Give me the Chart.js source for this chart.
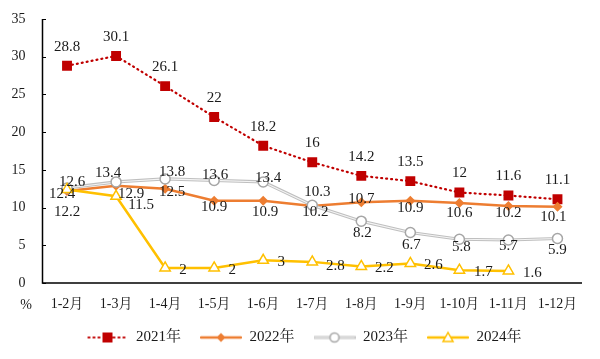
<!DOCTYPE html>
<html>
<head>
<meta charset="utf-8">
<script src="https://cdn.jsdelivr.net/npm/chart.js@4.4.1/dist/chart.umd.min.js"></script>
<style>
html,body{margin:0;padding:0;background:#fff;}
#wrap{width:600px;height:359px;position:relative;}
</style>
</head>
<body>
<div id="wrap"><canvas id="c" width="600" height="359"></canvas></div>
<script>
const categories = ['1-2月','1-3月','1-4月','1-5月','1-6月','1-7月','1-8月','1-9月','1-10月','1-11月','1-12月'];
const series2021 = [28.8, 30.1, 26.1, 22, 18.2, 16, 14.2, 13.5, 12, 11.6, 11.1];
const series2022 = [12.2, 12.9, 12.5, 10.9, 10.9, 10.2, 10.7, 10.9, 10.6, 10.2, 10.1];
const series2023 = [12.6, 13.4, 13.8, 13.6, 13.4, 10.3, 8.2, 6.7, 5.8, 5.7, 5.9];
const series2024 = [12.4, 11.5, 2, 2, 3, 2.8, 2.2, 2.6, 1.7, 1.6, null];
const seriesNames = ['2021年','2022年','2023年','2024年'];
const yTicks = [0, 5, 10, 15, 20, 25, 30, 35];

// label offsets (dx, dy) in pixels relative to each point – styling only
const labelOffsets = {
  s2021: series2021.map(() => [0, -19]),
  s2022: [[0,21],[15,8],[7,3],[0,6],[2,11],[3,6],[0,-3],[0,7],[0,10],[0,7],[-4,10]],
  s2023: [[5,-6],[-8,-9],[7,-7],[1,-5],[5,-4],[5,-13],[1,12],[1,12.5],[2,8],[0,6],[0,12]],
  s2024: [[-5,5],[25,9],[18,2],[18,2],[18,2],[23,4],[23,2],[23,2],[24,2],[24,2],[0,0]]
};

const RED = '#C00000', ORANGE = '#ED7D31', GREY = '#BFBFBF', YELLOW = '#FFC000';
const FONT = '"Liberation Serif", "Times New Roman", "Noto Serif CJK SC", "Noto Sans CJK SC", serif';
const TEXT = '#1a1a1a';

function legendIcon(kind) {
  const c = document.createElement('canvas');
  c.width = 42; c.height = 16;
  const g = c.getContext('2d');
  const cy = 8, mx = 21;
  g.lineCap = 'round';
  if (kind === 0) {
    g.strokeStyle = RED; g.lineWidth = 2.2; g.setLineDash([1, 4]);
    g.beginPath(); g.moveTo(2, cy); g.lineTo(41, cy); g.stroke();
    g.setLineDash([]);
    g.fillStyle = RED; g.fillRect(mx - 5, cy - 5, 10, 10);
  } else if (kind === 1) {
    g.strokeStyle = ORANGE; g.lineWidth = 2.5;
    g.beginPath(); g.moveTo(1, cy); g.lineTo(41, cy); g.stroke();
    g.fillStyle = ORANGE; g.beginPath();
    g.moveTo(mx, cy - 4.5); g.lineTo(mx + 4.5, cy); g.lineTo(mx, cy + 4.5); g.lineTo(mx - 4.5, cy); g.closePath(); g.fill();
  } else if (kind === 2) {
    g.strokeStyle = GREY; g.lineWidth = 3;
    g.beginPath(); g.moveTo(1, cy); g.lineTo(41, cy); g.stroke();
    g.strokeStyle = '#F2F2F2'; g.lineWidth = 1;
    g.beginPath(); g.moveTo(1, cy); g.lineTo(41, cy); g.stroke();
    g.fillStyle = '#fff'; g.strokeStyle = '#A6A6A6'; g.lineWidth = 1.5;
    g.beginPath(); g.arc(mx, cy, 4.5, 0, Math.PI * 2); g.fill(); g.stroke();
  } else {
    g.strokeStyle = YELLOW; g.lineWidth = 2.5;
    g.beginPath(); g.moveTo(1, cy); g.lineTo(41, cy); g.stroke();
    g.fillStyle = '#fff'; g.strokeStyle = YELLOW; g.lineWidth = 1.5;
    g.beginPath(); g.moveTo(mx, cy - 5); g.lineTo(mx + 5, cy + 4); g.lineTo(mx - 5, cy + 4); g.closePath(); g.fill(); g.stroke();
  }
  return c;
}

const icons = [0,1,2,3].map(legendIcon);

const labelPlugin = {
  id: 'valueLabels',
  afterDatasetsDraw(chart) {
    const ctx = chart.ctx;
    ctx.save();
    ctx.font = '15px ' + FONT;
    ctx.fillStyle = TEXT;
    ctx.textAlign = 'center';
    ctx.textBaseline = 'middle';
    chart.data.datasets.forEach((ds, di) => {
      if (!ds.labelKey) return;
      const meta = chart.getDatasetMeta(di);
      const offs = labelOffsets[ds.labelKey];
      meta.data.forEach((pt, i) => {
        const v = ds.data[i];
        if (v === null || v === undefined) return;
        const o = offs[i];
        ctx.fillText(String(v), pt.x + o[0], pt.y + o[1]);
      });
    });
    ctx.restore();
  }
};

const axisPlugin = {
  id: 'axisLines',
  afterLayout(chart) {
    if (chart.legend) { chart.legend.left = 8; chart.legend.right = 600; }
  },
  afterDraw(chart) {
    const ctx = chart.ctx;
    const a = chart.chartArea;
    const y = chart.scales.y;
    ctx.save();
    ctx.strokeStyle = '#000';
    ctx.lineWidth = 1.5;
    ctx.beginPath();
    ctx.moveTo(a.left, a.top);
    ctx.lineTo(a.left, a.bottom);
    ctx.lineTo(a.right, a.bottom);
    ctx.stroke();
    ctx.lineWidth = 1;
    yTicks.forEach(t => {
      const py = Math.round(y.getPixelForValue(t)) + 0.5;
      ctx.beginPath(); ctx.moveTo(a.left, py); ctx.lineTo(a.left + 3.5, py); ctx.stroke();
    });
    ctx.font = '14px ' + FONT;
    ctx.fillStyle = TEXT;
    ctx.textAlign = 'center';
    ctx.textBaseline = 'middle';
    ctx.fillText('%', 26, 305);
    ctx.restore();
  }
};

new Chart(document.getElementById('c'), {
  type: 'line',
  data: {
    labels: categories,
    datasets: [
      {
        label: seriesNames[0], data: series2021, labelKey: 's2021', order: 4,
        borderColor: RED, borderWidth: 2.2, borderDash: [1, 4], borderCapStyle: 'round',
        pointStyle: 'rect', pointRadius: 7, pointBackgroundColor: RED, pointBorderColor: RED, pointBorderWidth: 0,
        fill: false, tension: 0
      },
      {
        label: seriesNames[1], data: series2022, labelKey: 's2022', order: 3,
        borderColor: ORANGE, borderWidth: 2.5,
        pointStyle: 'rectRot', pointRadius: 5, pointBackgroundColor: ORANGE, pointBorderColor: ORANGE, pointBorderWidth: 0,
        fill: false, tension: 0
      },
      {
        label: seriesNames[2] + '_bg', data: series2023, order: 2,
        borderColor: GREY, borderWidth: 3.2, pointRadius: 0, fill: false, tension: 0
      },
      {
        label: seriesNames[2], data: series2023, labelKey: 's2023', order: 1,
        borderColor: '#F4F4F4', borderWidth: 1.1,
        pointStyle: 'circle', pointRadius: 5, pointBackgroundColor: '#fff', pointBorderColor: '#A6A6A6', pointBorderWidth: 1.5,
        fill: false, tension: 0
      },
      {
        label: seriesNames[3], data: series2024, labelKey: 's2024', order: 0,
        borderColor: YELLOW, borderWidth: 2.5,
        pointStyle: 'triangle', pointRadius: 6, pointBackgroundColor: '#fff', pointBorderColor: YELLOW, pointBorderWidth: 1.5,
        fill: false, tension: 0, spanGaps: false
      }
    ]
  },
  options: {
    responsive: false,
    animation: false,
    devicePixelRatio: 1,
    layout: { padding: { left: 0, right: 18, top: 19, bottom: 4 } },
    plugins: {
      tooltip: { enabled: false },
      legend: {
        position: 'bottom',
        labels: {
          usePointStyle: true,
          pointStyleWidth: 42,
          padding: 19,
          color: TEXT,
          font: { family: FONT, size: 15 },
          generateLabels(chart) {
            return [0,1,2,3].map(k => ({
              text: seriesNames[k],
              pointStyle: icons[k],
              fillStyle: 'transparent', strokeStyle: 'transparent', lineWidth: 0,
              fontColor: TEXT,
              hidden: false,
              datasetIndex: [0, 1, 3, 4][k]
            }));
          }
        }
      }
    },
    scales: {
      x: {
        offset: true,
        grid: { display: false, drawTicks: false },
        border: { display: false },
        ticks: { color: TEXT, font: { family: FONT, size: 14 }, padding: 13, maxRotation: 0, autoSkip: false },
        afterFit(s) { s.height = 28; }
      },
      y: {
        min: 0, max: 35,
        afterBuildTicks(s) { s.ticks = yTicks.map(v => ({ value: v })); },
        grid: { display: false, drawTicks: false },
        border: { display: false },
        ticks: { color: TEXT, font: { family: FONT, size: 14 }, padding: 17 },
        afterFit(s) { s.width = 42.5; s.paddingTop = 0; s.paddingBottom = 0; }
      }
    }
  },
  plugins: [labelPlugin, axisPlugin]
});
</script>
</body>
</html>
